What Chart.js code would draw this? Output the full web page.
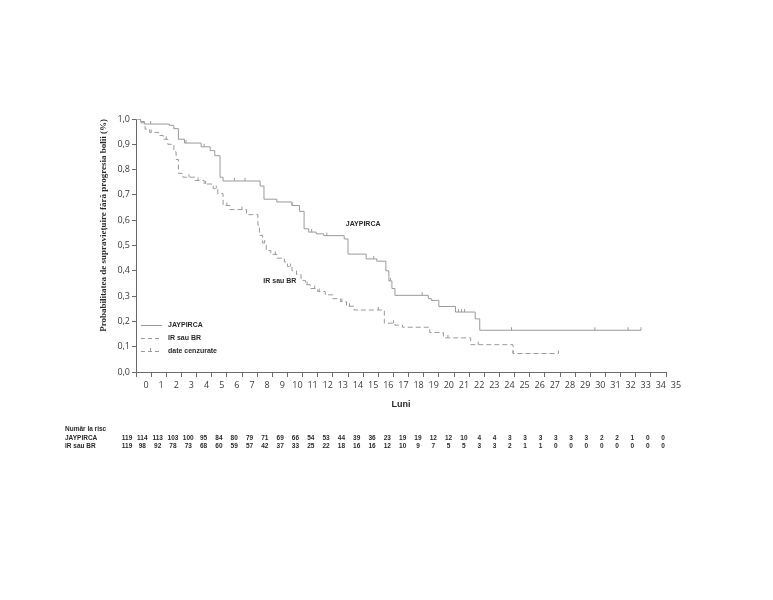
<!DOCTYPE html>
<html>
<head>
<meta charset="utf-8">
<script src="https://cdn.jsdelivr.net/npm/chart.js@4/dist/chart.umd.min.js"></script>
<style>
  html, body { margin: 0; padding: 0; background: #fff; }
  canvas { display: block; }
</style>
</head>
<body>
<canvas id="km" width="773" height="600"></canvas>
<script>
// Kaplan-Meier curves (months, survival probability)
const jayMonths = [0, 0.3, 0.55, 2.2, 2.5, 2.8, 3.2, 4.3, 4.9, 5.2, 5.55, 5.75, 8.2, 8.45, 9.3, 10.3, 10.8, 11.1, 11.4, 11.9,
                   12.4, 13.75, 14.0, 15.2, 15.9, 16.5, 16.7, 16.9, 17.1, 19.3, 19.5, 20.0, 21.1, 22.4, 22.7, 33.35];
const jaySurv   = [1.0, 0.99, 0.98, 0.975, 0.962, 0.92, 0.905, 0.89, 0.875, 0.855, 0.77, 0.755, 0.735, 0.683, 0.672, 0.658, 0.635, 0.566, 0.553, 0.546,
                   0.539, 0.526, 0.466, 0.447, 0.438, 0.40, 0.36, 0.33, 0.303, 0.29, 0.283, 0.259, 0.237, 0.21, 0.165, 0.165];

const irMonths = [0, 0.3, 0.6, 0.9, 1.5, 1.8, 2.1, 2.5, 2.65, 2.8, 3.1, 3.9, 4.5, 5.1, 5.4, 5.75, 6.2, 7.3, 8.05, 8.15,
                  8.35, 8.6, 8.9, 9.3, 9.8, 10.0, 10.3, 10.6, 10.9, 11.2, 11.5, 12.0, 12.5, 13.0, 13.5, 13.9, 14.4, 16.4, 17.1, 17.6,
                  19.4, 20.3, 22.1, 24.9, 27.9];
const irSurv   = [1.0, 0.985, 0.96, 0.947, 0.935, 0.92, 0.9, 0.87, 0.84, 0.785, 0.77, 0.757, 0.743, 0.725, 0.705, 0.658, 0.642, 0.622, 0.58, 0.54,
                  0.51, 0.48, 0.465, 0.45, 0.435, 0.417, 0.40, 0.385, 0.362, 0.345, 0.33, 0.318, 0.305, 0.29, 0.278, 0.26, 0.245, 0.193, 0.185, 0.177,
                  0.156, 0.135, 0.108, 0.073, 0.073];

// censored observations (months)
const jayCensor = [0.97, 3.3, 4.5, 6.5, 7.2, 10.3, 11.6, 12.6, 15.7, 16.8, 18.9, 21.3, 21.5, 21.7, 24.8, 30.3, 32.5, 33.35];
const irCensor  = [0.2, 1.0, 2.0, 3.5, 4.1, 4.6, 5.3, 6.0, 7.0, 8.5, 9.2, 10.2, 11.3, 11.8, 12.1, 13.6, 14.1, 16.0, 17.0, 20.6, 22.6, 24.9, 27.9];

// number at risk, months 0..35
const jayRisk = [119, 114, 113, 103, 100, 95, 84, 80, 79, 71, 69, 66, 54, 53, 44, 39, 36, 23, 19, 19, 12, 12, 10, 4, 4, 3, 3, 3, 3, 3, 3, 2, 2, 1, 0, 0];
const irRisk  = [119, 98, 92, 78, 73, 68, 60, 59, 57, 42, 37, 33, 25, 22, 18, 16, 16, 12, 10, 9, 7, 5, 5, 3, 3, 2, 1, 1, 0, 0, 0, 0, 0, 0, 0, 0];

const seriesNames = ["JAYPIRCA", "IR sau BR"];

const LINE_COLOR = "#9a9a9a";
const AXIS_COLOR = "#6a6a6a";
const TEXT_COLOR = "#2a2a2a";
const SANS = '"Liberation Sans", Arial, sans-serif';

function toPoints(xs, ys) {
  return xs.map((x, i) => ({ x, y: ys[i] }));
}

function survAt(xs, ys, t) {
  let v = ys[0];
  for (let i = 0; i < xs.length; i++) if (xs[i] <= t) v = ys[i];
  return v;
}

const labelsPlugin = {
  id: "kmLabels",
  afterDraw(chart) {
    const { ctx, scales: { x, y }, chartArea } = chart;
    ctx.save();
    ctx.fillStyle = TEXT_COLOR;
    ctx.font = `bold 7px ${SANS}`;
    ctx.textBaseline = "middle";

    // curve labels
    ctx.textAlign = "center";
    ctx.fillText(seriesNames[0], x.getPixelForValue(15.0), y.getPixelForValue(0.583));
    ctx.fillText(seriesNames[1], x.getPixelForValue(9.5), y.getPixelForValue(0.358));

    // legend inside the plot
    const lx0 = 141, lx1 = 162, tx = 168;
    const rows = [325, 338, 351];
    ctx.textAlign = "left";
    ctx.strokeStyle = LINE_COLOR;
    ctx.lineWidth = 1;
    rows.forEach((ry, i) => {
      ctx.beginPath();
      ctx.setLineDash(i === 0 ? [] : [4, 3]);
      ctx.moveTo(lx0, ry + 0.5);
      ctx.lineTo(lx1, ry + 0.5);
      ctx.stroke();
    });
    ctx.setLineDash([]);
    ctx.beginPath();
    ctx.moveTo(150.5, rows[2] + 0.5);
    ctx.lineTo(150.5, rows[2] - 3);
    ctx.stroke();
    ctx.fillText(seriesNames[0], tx, rows[0]);
    ctx.fillText(seriesNames[1], tx, rows[1]);
    ctx.fillText("date cenzurate", tx, rows[2]);

    // number at risk table
    ctx.font = `bold 6.5px ${SANS}`;
    ctx.fillText("Număr la risc", 65, 429);
    ctx.fillText(seriesNames[0], 65, 438.5);
    ctx.fillText(seriesNames[1], 65, 446.5);
    ctx.textAlign = "center";
    const step = (chartArea.right - chartArea.left + 6) / 35;
    jayRisk.forEach((n, k) => {
      const cx = chartArea.left - 9 + k * step;
      ctx.fillText(String(n), cx, 438.5);
      ctx.fillText(String(irRisk[k]), cx, 446.5);
    });
    ctx.restore();
  },
};

new Chart(document.getElementById("km"), {
  type: "line",
  plugins: [labelsPlugin],
  data: {
    datasets: [
      {
        label: seriesNames[0],
        data: toPoints(jayMonths, jaySurv),
        borderColor: LINE_COLOR,
        borderWidth: 1,
        stepped: "before",
        pointRadius: 0,
      },
      {
        label: seriesNames[1],
        data: toPoints(irMonths, irSurv),
        borderColor: LINE_COLOR,
        borderWidth: 1,
        borderDash: [5, 3],
        stepped: "before",
        pointRadius: 0,
      },
      {
        label: "date cenzurate",
        type: "scatter",
        data: jayCensor.map(t => ({ x: t, y: survAt(jayMonths, jaySurv, t) }))
          .concat(irCensor.map(t => ({ x: t, y: survAt(irMonths, irSurv, t) }))),
        showLine: false,
        pointStyle: "dash",
        rotation: -90,
        pointRadius: 3,
        pointBorderColor: LINE_COLOR,
        pointBorderWidth: 1,
      },
    ],
  },
  options: {
    responsive: false,
    animation: false,
    devicePixelRatio: 1,
    layout: { padding: { left: 0, top: 119, right: 107, bottom: 188 } },
    plugins: { legend: { display: false }, tooltip: { enabled: false } },
    scales: {
      x: {
        type: "linear",
        min: 0,
        max: 35,
        afterFit: s => { s.height = 40; },
        border: { color: AXIS_COLOR, width: 1 },
        grid: { drawOnChartArea: false, tickLength: 5, tickColor: AXIS_COLOR },
        ticks: {
          stepSize: 1,
          autoSkip: false,
          maxRotation: 0,
          labelOffset: 10,
          padding: 3,
          color: "#3a3a3a",
          font: { family: '"Open Sans", sans-serif', size: 9 },
        },
        title: {
          display: true,
          text: "Luni",
          color: TEXT_COLOR,
          font: { family: SANS, weight: "bold", size: 9 },
          padding: { top: 0, bottom: 2 },
        },
      },
      y: {
        min: 0,
        max: 1,
        afterFit: s => { s.width = 136; },
        border: { color: AXIS_COLOR, width: 1 },
        grid: { drawOnChartArea: false, tickLength: 4, tickColor: AXIS_COLOR },
        ticks: {
          stepSize: 0.05,
          padding: 2,
          color: "#3a3a3a",
          font: { family: '"Open Sans", sans-serif', size: 9 },
          callback: v => (Math.round(v * 100) % 10 === 0 ? v.toFixed(1).replace(".", ",") : ""),
        },
        title: {
          display: true,
          text: "Probabilitatea de supraviețuire fără progresia bolii (%)",
          color: TEXT_COLOR,
          align: "end",
          font: { family: '"Liberation Serif", serif', weight: "bold", size: 9 },
          padding: { top: 98, bottom: 0 },
        },
      },
    },
  },
});
</script>
</body>
</html>
